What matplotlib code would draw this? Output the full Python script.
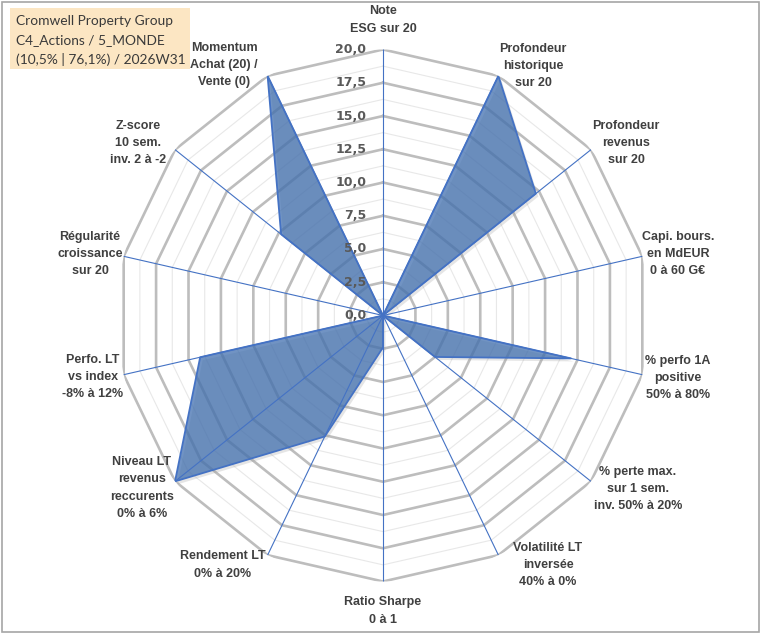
import numpy as np
import matplotlib
matplotlib.use("Agg")
import matplotlib.pyplot as plt
from matplotlib.patches import Rectangle
import matplotlib.transforms as mtransforms

# ---------------- data ----------------
categories = [
    "Note\nESG sur 20",
    "Profondeur\nhistorique\nsur 20",
    "Profondeur\nrevenus\nsur 20",
    "Capi. bours.\nen MdEUR\n0 à 60 G€",
    "% perfo 1A\npositive\n50% à 80%",
    "% perte max.\nsur 1 sem.\ninv. 50% à 20%",
    "Volatilité LT\ninversée\n40% à 0%",
    "Ratio Sharpe\n0 à 1",
    "Rendement LT\n0% à 20%",
    "Niveau LT\nrevenus\nreccurents\n0% à 6%",
    "Perfo. LT\nvs index\n-8% à 12%",
    "Régularité\ncroissance\nsur 20",
    "Z-score\n10 sem.\ninv. 2 à -2",
    "Momentum\nAchat (20) /\nVente (0)",
]
values = [0, 20, 14.7, 0, 14.5, 5.0, 0, 2.4, 10.1, 20, 14.1, 0, 9.8, 20]
tick_values = [0, 2.5, 5, 7.5, 10, 12.5, 15, 17.5, 20]
tick_labels = ["0,0", "2,5", "5,0", "7,5", "10,0", "12,5", "15,0", "17,5", "20,0"]
title_lines = ["Cromwell Property Group", "C4_Actions / 5_MONDE", "(10,5% | 76,1%) / 2026W31"]

# ---------------- layout ----------------
W, H = 760, 633
label_px = [(383, 20), (533, 66), (626, 143), (678, 254), (678, 378), (638, 489),
            (548, 565), (383, 611), (223, 565), (142, 488), (93, 377), (90, 254),
            (138, 143), (224, 65)]

fig = plt.figure(figsize=(W / 100, H / 100), dpi=100)
fig.patch.set_facecolor("white")

cx, cy, R = 383, 315.5, 266
ax = fig.add_axes([(cx - R) / W, (H - cy - R) / H, 2 * R / W, 2 * R / H], projection="polar")
ax.set_theta_offset(np.pi / 2)
ax.set_theta_direction(-1)
ax.set_ylim(0, 20)
ax.grid(False)
ax.spines["polar"].set_visible(False)
ax.set_xticks([])
ax.set_yticks([])
ax.patch.set_alpha(0)

n = len(categories)
theta = np.linspace(0, 2 * np.pi, n, endpoint=False)
theta_c = np.append(theta, theta[0])

# grid polygons
levels = np.arange(1.25, 20.01, 1.25)
for lv in levels:
    major = abs(lv / 2.5 - round(lv / 2.5)) < 1e-6
    ax.plot(theta_c, [lv] * (n + 1),
            color="#BDBDBD" if major else "#E8E8E8",
            lw=1.9 if major else 0.8, zorder=1, solid_joinstyle="miter")

# spokes
for t in theta:
    ax.plot([t, t], [0, 20], color="#4472C4", lw=0.8, zorder=3)

# series
vals_c = np.append(values, values[0])
shadow = mtransforms.offset_copy(ax.transData, fig=fig, x=2.5, y=-3.0, units="dots")
ax.fill(theta_c, vals_c, color="#9A9A9A", alpha=0.25, lw=0, zorder=1.5, transform=shadow)
ax.fill(theta_c, vals_c, color="#3F6EAE", alpha=0.74, lw=0, zorder=2)
ax.plot(theta_c, vals_c, color="#4472C4", lw=1.3, zorder=4)

# radial tick labels along the top axis
for v, s in zip(tick_values, tick_labels):
    ax.annotate(s, xy=(0, v), xytext=(-12, 0), textcoords="offset points",
                ha="right", va="center", fontsize=9, fontweight="bold",
                color="#595959", family="DejaVu Sans", zorder=6,
                annotation_clip=False)

# category labels
for lab, (px, py) in zip(categories, label_px):
    fig.text(px / W, 1 - py / H, lab, ha="center", va="center", fontsize=9,
             fontweight="bold", color="#404040", family="Liberation Sans",
             linespacing=1.6)

# title box
fig.patches.append(Rectangle((10 / W, 1 - 69 / H), 180 / W, 61 / H,
                             transform=fig.transFigure, facecolor="#FCE6C3",
                             edgecolor="none", zorder=0))
for i, line in enumerate(title_lines):
    fig.text(16 / W, 1 - (21 + 19.5 * i) / H, line, ha="left", va="center",
             fontsize=9.9, color="#3A3A3A", family="Lato")

# outer frame
fig.patches.append(Rectangle((1.5 / W, 1.5 / H), (W - 3) / W, (H - 3) / H,
                             transform=fig.transFigure, facecolor="none",
                             edgecolor="#A6A6A6", lw=1.2))

fig.savefig("out.png", dpi=100)
